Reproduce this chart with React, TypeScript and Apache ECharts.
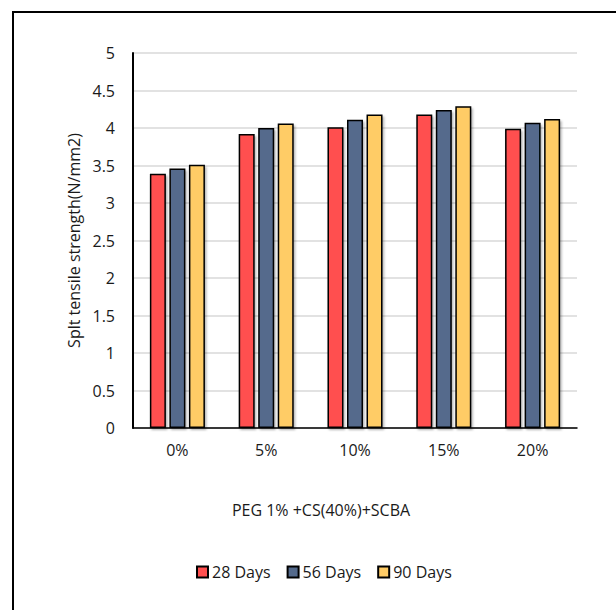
import React, { useEffect, useRef } from "react";
import * as echarts from "echarts";

const categories = ["0%", "5%", "10%", "15%", "20%"];
const seriesNames = ["28 Days", "56 Days", "90 Days"];
const days28 = [3.39, 3.92, 4.01, 4.18, 3.99];
const days56 = [3.46, 4.0, 4.11, 4.24, 4.07];
const days90 = [3.51, 4.06, 4.18, 4.29, 4.12];
const yTicks = [0, 0.5, 1, 1.5, 2, 2.5, 3, 3.5, 4, 4.5, 5];
const colors = ["#FF4F4F", "#546A8C", "#FFCC66"];

const FONT = "'Open Sans', 'Noto Sans', sans-serif";
const TEXT = "#1a1a1a";

export default function App() {
  const ref = useRef<HTMLDivElement>(null);

  useEffect(() => {
    if (!ref.current) return;
    const chart = echarts.init(ref.current, undefined, { renderer: "svg" });
    const values = [days28, days56, days90];

    chart.setOption({
      animation: false,
      backgroundColor: "#ffffff",
      textStyle: { fontFamily: FONT, color: TEXT },
      grid: { left: 133, top: 53, right: 39, bottom: 182, containLabel: false },
      legend: {
        left: 191,
        top: 559,
        itemWidth: 11,
        itemHeight: 11,
        itemGap: 16,
        icon: "rect",
        textStyle: { fontFamily: FONT, fontSize: 16, color: TEXT, padding: [0, 0, 0, -1] },
        data: seriesNames,
      },
      xAxis: {
        type: "category",
        data: categories,
        axisLine: { show: true, lineStyle: { color: "#000", width: 1.5 } },
        axisTick: { show: false },
        axisLabel: { fontFamily: FONT, fontSize: 16, color: TEXT, margin: 14 },
        splitLine: { show: false },
      },
      yAxis: {
        type: "value",
        min: yTicks[0],
        max: yTicks[yTicks.length - 1],
        interval: 0.5,
        name: "Splt tensile strength(N/mm2)",
        nameLocation: "middle",
        nameGap: 43,
        nameTextStyle: { fontFamily: FONT, fontSize: 16, color: TEXT },
        axisLine: { show: true, lineStyle: { color: "#000", width: 2 } },
        axisTick: { show: false },
        axisLabel: { fontFamily: FONT, fontSize: 16, color: TEXT, margin: 18 },
        splitLine: { show: true, lineStyle: { color: "#d9d9d9", width: 1.5 } },
      },
      graphic: [
        {
          type: "rect",
          shape: { x: 13, y: 12, width: 700, height: 700 },
          style: { fill: "none", stroke: "#000", lineWidth: 2 },
          silent: true,
        },
        {
          type: "text",
          x: 321,
          y: 510,
          style: {
            text: "PEG 1% +CS(40%)+SCBA",
            fontFamily: FONT,
            fontSize: 16,
            fill: TEXT,
            align: "center",
            verticalAlign: "middle",
          },
        },
      ],
      series: seriesNames.map((name, i) => ({
        name,
        type: "bar",
        data: values[i],
        barWidth: 16,
        barGap: "22%",
        itemStyle: {
          color: colors[i],
          borderColor: "#000",
          borderWidth: 1.5,
          shadowColor: "rgba(0,0,0,0.3)",
          shadowBlur: 2,
          shadowOffsetX: 1.5,
          shadowOffsetY: 2,
        },
      })),
    });

    return () => chart.dispose();
  }, []);

  return (
    <div
      ref={ref}
      style={{ position: "fixed", left: 0, top: 0, width: 616, height: 610 }}
    />
  );
}
